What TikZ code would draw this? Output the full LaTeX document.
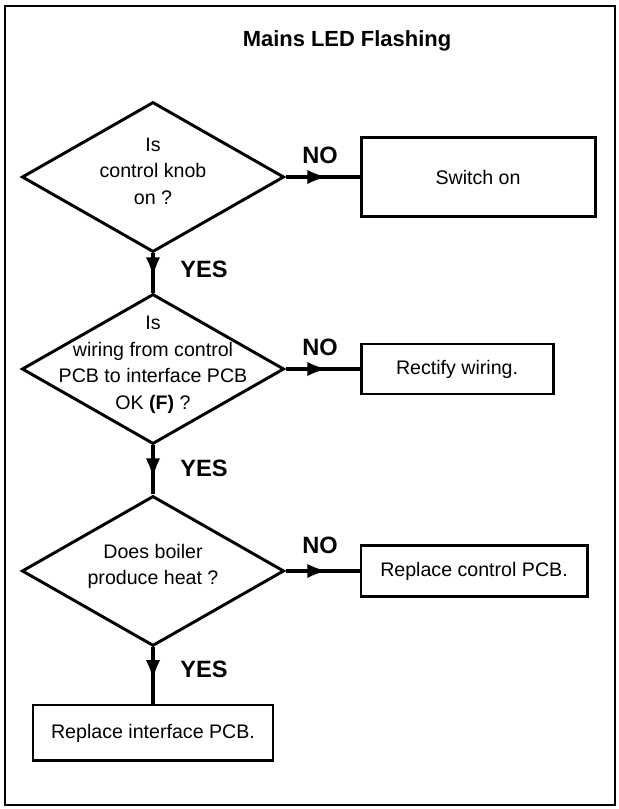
\documentclass[tikz,border=0pt]{standalone}
\usepackage{fontspec}
\setmainfont{Liberation Sans}
\usetikzlibrary{arrows.meta,shapes.geometric,decorations.markings}
\newcommand{\flatlines}[1]{\smash{\makebox[0pt]{\begin{tabular}{@{}c@{}}#1\end{tabular}}}}
\tikzset{
  decision/.style={diamond,draw,line width=1.4pt,inner sep=0pt,
    minimum width=4.37cm,minimum height=2.5cm,
    font=\fontsize{9.3}{12.6}\selectfont},
  action/.style={rectangle,draw,line width=1.4pt,inner sep=0pt,
    font=\fontsize{9.3}{11}\selectfont},
  answer/.style={font=\bfseries\fontsize{11.2}{13}\selectfont},
  flow/.style={line width=1.9pt,
    decoration={markings,
      mark=at position #1 with {\arrow{Latex[length=3.4mm,width=2.4mm]}}},
    postaction={decorate}},
}

\begin{document}
\begin{tikzpicture}[x=1cm,y=1cm]
        \useasboundingbox (0,0) rectangle (10.3,13.483);
        \draw[line width=1pt] (0.083,0.067) rectangle (10.25,13.383);

        \node[anchor=base,font=\bfseries\fontsize{10.4}{12}\selectfont]
          (title) at (5.783,12.705) {Mains LED Flashing};

        % questions
        \node[decision] (knob) at (2.55,10.533)
          {\flatlines{Is\\control knob\\on ?}};
        \node[decision] (wiring) at (2.55,7.333)
          {\flatlines{Is\\wiring from control\\PCB to interface PCB\\OK \textbf{(F)} ?}};
        \node[decision] (heat) at (2.55,3.967)
          {\flatlines{Does boiler\\produce heat ?}};

        % actions
        \node[action,minimum width=3.9cm,minimum height=1.317cm]
          (switchon) at (7.967,10.533) {Switch on};
        \node[action,minimum width=3.2cm,minimum height=0.833cm]
          (rectify) at (7.617,7.333) {Rectify wiring.};
        \node[action,minimum width=3.767cm,minimum height=0.85cm]
          (ctrlpcb) at (7.9,3.967) {Replace control PCB.};
        \node[action,minimum width=4cm,minimum height=0.933cm]
          (ifpcb) at (2.55,1.267) {Replace interface PCB.};

        \draw[flow=0.57] (knob.east) -- (switchon.west);
        \draw[flow=0.57] (wiring.east) -- (rectify.west);
        \draw[flow=0.57] (heat.east) -- (ctrlpcb.west);
        \draw[flow=0.62] (knob.south) -- (wiring.north);
        \draw[flow=0.68] (wiring.south) -- (heat.north);
        \draw[flow=0.59] (heat.south) -- (ifpcb.north);

        \node[answer,anchor=base] (no1) at (5.333,10.758) {NO};
        \node[answer,anchor=base] (no2) at (5.333,7.558) {NO};
        \node[answer,anchor=base] (no3) at (5.333,4.258) {NO};
        \node[answer,anchor=base west] (yes1) at (2.883,8.858) {YES};
        \node[answer,anchor=base west] (yes2) at (2.883,5.542) {YES};
        \node[answer,anchor=base west] (yes3) at (2.883,2.192) {YES};
      \end{tikzpicture}
\end{document}
